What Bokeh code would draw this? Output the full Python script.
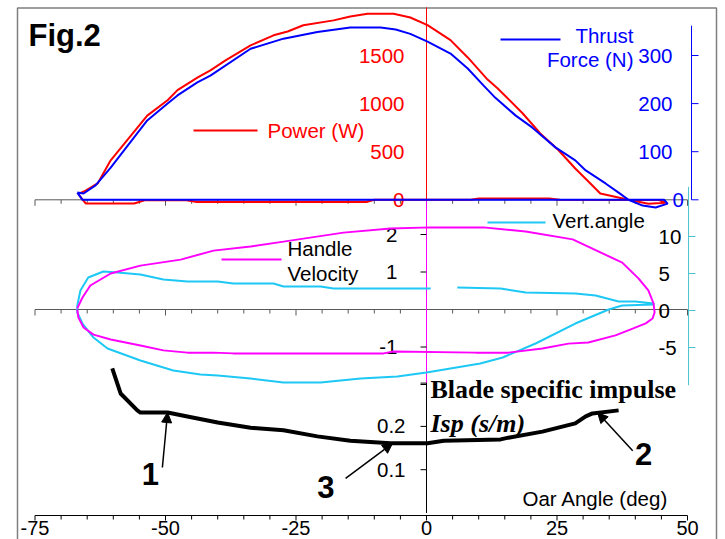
import math
from bokeh.plotting import figure
from bokeh.models import Range1d, Arrow, NormalHead
from bokeh.core.properties import value
from bokeh.embed import file_html
from bokeh.resources import INLINE

# ---------------- data ----------------
# Power (W) vs oar angle (deg): drive then recovery (closed loop)
power_x = [-66.7, -65.3, -63.0, -60.5, -53.5, -49.6, -47.7, -43.9, -41.4, -38.5, -33.7, -29.3,
           -26.6, -23.6, -17.8, -14.6, -11.3, -8.8, -6.3, -3.1, 0.2, 4.6, 7.9, 11.7, 13.6, 18.4,
           21.8, 25.3, 28.5, 31.4, 33.3, 38.7, 42.5, 45.8,
           44.5, 25.5, 23.5, 10.0, 8.5, -10.0, -11.5, -44.0, -46.0, -54.0, -56.0, -65.3, -66.7]
power_w = [60, 95, 170, 410, 875, 1035, 1140, 1270, 1345, 1450, 1605, 1710,
           1750, 1815, 1865, 1905, 1935, 1935, 1935, 1895, 1815, 1660, 1480, 1250, 1160, 900,
           690, 515, 325, 170, 65, 0, -40, -30,
           -3, 0, 14, 14, 0, 0, -22, -22, -5, -5, -38, -38, 60]

# Thrust force (N)
thrust_x = [-66.9, -65.7, -63.4, -60.5, -53.5, -49.6, -47.7, -43.9, -41.4, -33.7, -27.4, -20.9,
            -14.6, -8.8, -5.9, -3.1, 0.2, 4.6, 7.9, 10.9, 13.2, 17.1, 20.3, 24.7, 28.5, 30.5,
            34.3, 36.8, 38.7, 41.4, 43.9, 46.2, 45.5, 20.0, -20.0, -65.9, -66.9]
thrust_n = [15, 13, 30, 67, 165, 200, 217, 244, 258, 314, 335, 349,
            358, 358, 354, 345, 329, 304, 273, 238, 212, 175, 150, 109, 82, 61,
            34, 15, 0, -12, -16, -8, 0, 0, 0, 0, 15]

# Handle velocity (m/s)
hv_x = [-66.9, -65.9, -64.4, -60.5, -54.8, -47.1, -40.8, -33.7, -27.4, -15.9, -6.9, 0.8, 10.9,
        19.0, 28.0, 37.5, 40.6, 42.5, 43.5, 43.7, 43.3, 42.0, 39.5, 36.2, 31.0, 27.2, 22.2, 15.7,
        9.4, -6.3, -8.2, -33.7, -37.0, -40.8, -45.8, -50.4, -54.8, -60.5, -63.8, -65.7, -66.7, -66.9]
hv_v = [0.03, 0.32, 0.64, 0.96, 1.17, 1.33, 1.57, 1.68, 1.81, 2.05, 2.16, 2.19, 2.19,
        2.08, 1.87, 1.25, 0.83, 0.51, 0.16, -0.08, -0.24, -0.37, -0.51, -0.69, -0.88, -0.91, -1.04, -1.15,
        -1.15, -1.12, -1.17, -1.17, -1.17, -1.15, -1.15, -1.09, -0.96, -0.80, -0.67, -0.48, -0.21, 0.0]

# Vertical blade angle (deg); NaN marks the gap in the recorded line
va_x = [-66.9, -66.3, -64.8, -61.9, -59.2, -54.8, -50.4, -45.8, -40.0, -37.0, -29.3, -27.4, -20.3,
        -17.8, 0.8, float("nan"), 5.9, 14.2, 19.0, 28.5, 32.4, 36.8, 40.0, 43.5,
        43.5, 37.5, 34.9, 28.5, 20.9, 14.6, 10.3, 0.0, -5.6, -12.6, -20.3, -27.4, -33.7, -40.0,
        -43.3, -48.5, -54.8, -61.1, -63.8, -65.9, -66.9, -66.9]
va_deg = [0.68, 2.70, 4.46, 5.27, 5.14, 4.86, 4.19, 3.92, 3.92, 3.65, 3.65, 3.24, 3.24,
          2.97, 2.97, float("nan"), 3.11, 2.97, 2.43, 2.30, 2.03, 1.22, 1.22, 0.95,
          0.81, 0.68, 0.14, -1.76, -4.46, -6.35, -7.16, -8.38, -8.92, -9.19, -9.73, -9.73, -9.19, -8.78,
          -8.65, -8.11, -6.76, -5.14, -3.65, -1.76, -0.27, 0.68]

# Blade specific impulse Isp (s/m)
isp_x = [-60.2, -58.6, -55.4, -54.8, -49.6, -45.8, -40.0, -33.7, -27.4, -20.9, -14.6, -6.9, 0.2,
         3.3, 14.2, 15.7, 22.2, 28.5, 30.5, 31.8, 36.8]
isp_v = [0.334, 0.276, 0.237, 0.232, 0.232, 0.223, 0.209, 0.197, 0.191, 0.177, 0.167, 0.161, 0.161,
         0.167, 0.170, 0.174, 0.188, 0.207, 0.223, 0.230, 0.237]

# ticks and labels
x_major = [-75, -50, -25, 0, 25, 50]
x_labels = ["-75", "-50", "-25", "0", "25", "50"]
x_minor = [v for v in range(-75, 51, 5) if v not in x_major]
power_ticks = [0, 500, 1000, 1500]
power_labels = ["0", "500", "1000", "1500"]
thrust_ticks = [100, 200, 300]
thrust_labels = ["100", "200", "300"]
hv_ticks = [-2, -1, 1, 2]
hv_label_vals = [-1, 1, 2]
hv_labels = ["-1", "1", "2"]
va_ticks = [-5, 0, 5, 10]
va_labels = ["-5", "0", "5", "10"]
isp_ticks = [0.1, 0.2, 0.3]
isp_label_vals = [0.1, 0.2]
isp_labels = ["0.1", "0.2"]

# ---------------- layout (page pixels) ----------------
W, H = 725, 539
TOP, BOT, LEFT, RIGHT = 0, H, 0, W
X0_PX, X_PPU = 426.0, 5.22


def yrng(zero_px, ppu):
    return Range1d(start=-(BOT - zero_px) / ppu, end=(zero_px - TOP) / ppu)


p = figure(width=W, height=H, output_backend="svg", toolbar_location=None,
           x_axis_type=None, y_axis_type=None, min_border=0,
           x_range=Range1d((LEFT - X0_PX) / X_PPU, (RIGHT - X0_PX) / X_PPU),
           y_range=yrng(199.3, 0.0962))
p.outline_line_color = None
p.background_fill_color = "white"
p.border_fill_color = "white"
p.extra_y_ranges = {
    "thrust": yrng(199.3, 0.481),
    "hv": yrng(309.0, 37.5),
    "va": yrng(310.0, 7.4),
    "isp": yrng(512.5, 433.0),
    "px": Range1d(BOT, TOP),
}
p.extra_x_ranges = {"px": Range1d(LEFT, RIGHT)}

SANS = "Liberation Sans"
SERIF = "Liberation Serif"
FS = "20.5px"
AX = "#595959"


def text(x, y, s, xr="default", yr="default", size=FS, color="black", align="left",
         baseline="middle", font=SANS, style="normal", xo=0):
    p.text(x=x if isinstance(x, list) else [x], y=y if isinstance(y, list) else [y],
           text=s if isinstance(s, list) else [s],
           x_range_name=xr, y_range_name=yr, text_font=value(font), text_font_size=value(size),
           text_font_style=style, text_color=color, text_align=align,
           text_baseline=baseline, x_offset=xo)


# outer frame
p.line(x=[17, 17, 716, 716], y=[BOT, 7.5, 7.5, BOT], x_range_name="px", y_range_name="px",
       line_color="#7f7f7f", line_width=1.5)

# horizontal axes (power zero, velocity zero, bottom)
for yr, yv in (("default", 0), ("hv", 0)):
    p.segment(x0=[-75], x1=[50], y0=[yv], y1=[yv], y_range_name=yr, line_color=AX, line_width=1)
    p.ray(x=x_major, y=[yv] * len(x_major), y_range_name=yr, length=6, angle=-math.pi / 2,
          length_units="screen", line_color=AX, line_width=1)
    p.ray(x=x_minor, y=[yv] * len(x_minor), y_range_name=yr, length=4, angle=-math.pi / 2,
          length_units="screen", line_color=AX, line_width=1)
p.segment(x0=[-75], x1=[50], y0=[515], y1=[515], y_range_name="px", line_color="black", line_width=1)
p.ray(x=x_major, y=[515] * len(x_major), y_range_name="px", length=5, angle=-math.pi / 2,
      length_units="screen", line_color="black", line_width=1)
p.ray(x=x_minor, y=[515] * len(x_minor), y_range_name="px", length=4, angle=-math.pi / 2,
      length_units="screen", line_color="black", line_width=1)
text(x_major, [527.5] * len(x_major), x_labels, yr="px", align="center", size="20px")

# centre vertical axes at x = 0
p.segment(x0=[0], x1=[0], y0=[0], y1=[2000], line_color="red", line_width=1)
p.segment(x0=[0], x1=[0], y0=[-2.0], y1=[2.9], y_range_name="hv", line_color="magenta", line_width=1)
p.segment(x0=[0], x1=[0], y0=[0], y1=[0.3], y_range_name="isp", line_color="black", line_width=1)
p.ray(x=[0] * len(hv_ticks), y=hv_ticks, y_range_name="hv", length=6, angle=math.pi,
      length_units="screen", line_color="black", line_width=1)
p.ray(x=[0] * len(isp_ticks), y=isp_ticks, y_range_name="isp", length=6, angle=math.pi,
      length_units="screen", line_color="black", line_width=1)
text([0] * len(power_ticks), power_ticks, power_labels, color="red", align="right", xo=-22)
text([0] * len(hv_label_vals), hv_label_vals, hv_labels, yr="hv", align="right", xo=-29)
text([0] * len(isp_label_vals), isp_label_vals, isp_labels, yr="isp", align="right", xo=-21)

# right axes: thrust (blue) and vertical angle (cyan)
TX, VX = 50.77, 50.2
p.segment(x0=[TX], x1=[TX], y0=[0], y1=[362], y_range_name="thrust", line_color="blue", line_width=1)
p.ray(x=[TX] * 4, y=[0] + thrust_ticks, y_range_name="thrust", length=7, angle=0,
      length_units="screen", line_color="blue", line_width=1)
text([TX] * 3, thrust_ticks, thrust_labels, yr="thrust", color="blue", align="right", xo=-19)
text(TX, 0, "0", yr="thrust", color="blue", align="left", xo=-19)
p.segment(x0=[VX], x1=[VX], y0=[-10.1], y1=[16.7], y_range_name="va", line_color="#4cc4cc", line_width=1)
p.ray(x=[VX] * len(va_ticks), y=va_ticks, y_range_name="va", length=7, angle=0,
      length_units="screen", line_color="#4cc4cc", line_width=1)
text([VX] * len(va_ticks), va_ticks, va_labels, yr="va", align="left", xo=-30)

# curves
p.line(va_x, va_deg, y_range_name="va", line_color="#1ec8f5", line_width=2)
p.line(hv_x, hv_v, y_range_name="hv", line_color="#ff00ff", line_width=2)
p.line(power_x, power_w, line_color="red", line_width=2)
p.line(thrust_x, thrust_n, y_range_name="thrust", line_color="blue", line_width=2)
p.line(isp_x, isp_v, y_range_name="isp", line_color="black", line_width=4, line_join="round")

# legends / annotations (page pixels)
p.segment(x0=[193], x1=[257], y0=[130], y1=[130], x_range_name="px", y_range_name="px",
          line_color="red", line_width=2)
text(267, 129.5, "Power (W)", xr="px", yr="px", color="red")
p.segment(x0=[500], x1=[560], y0=[39], y1=[39], x_range_name="px", y_range_name="px",
          line_color="blue", line_width=2)
text(633, 34.5, "Thrust", xr="px", yr="px", color="blue", align="right")
text(633, 58.5, "Force (N)", xr="px", yr="px", color="blue", align="right")
p.segment(x0=[221], x1=[281], y0=[259], y1=[259], x_range_name="px", y_range_name="px",
          line_color="#ff00ff", line_width=2)
text(287, 247.5, "Handle", xr="px", yr="px")
text(287, 272.5, "Velocity", xr="px", yr="px")
p.segment(x0=[487], x1=[545], y0=[222], y1=[222], x_range_name="px", y_range_name="px",
          line_color="#1ec8f5", line_width=2)
text(552, 219.5, "Vert.angle", xr="px", yr="px")
text(28, 35, "Fig.2", xr="px", yr="px", size="31px", style="bold")
text(430, 389, "Blade specific impulse", xr="px", yr="px", size="26px", font=SERIF, style="bold")
text(430, 423, "Isp (s/m)", xr="px", yr="px", size="26px", font=SERIF, style="bold italic")
text(522, 497.5, "Oar Angle (deg)", xr="px", yr="px")

# numbered arrows pointing at the Isp curve
for lab, tip_x, tail_x, tail_isp, lab_x, lab_isp in (
        ("1", -49.6, -50.6, 0.105, -52.9, 0.089),
        ("3", -6.5, -15.5, 0.080, -19.3, 0.059),
        ("2", 32.8, 39.5, 0.144, 41.6, 0.137)):
    # tip sits on the curve
    xs, ys = isp_x, isp_v
    for i in range(len(xs) - 1):
        if xs[i] <= tip_x <= xs[i + 1]:
            t = (tip_x - xs[i]) / (xs[i + 1] - xs[i])
            tip_y = ys[i] + t * (ys[i + 1] - ys[i])
            break
    p.add_layout(Arrow(x_start=tail_x, y_start=tail_isp, x_end=tip_x, y_end=tip_y,
                       y_range_name="isp", line_width=1.5, line_color="black",
                       end=NormalHead(size=10, fill_color="black", line_color="black")))
    text(lab_x, lab_isp, lab, yr="isp", size="31px", style="bold", align="center")

open("out.html", "w").write(file_html(p, INLINE))
